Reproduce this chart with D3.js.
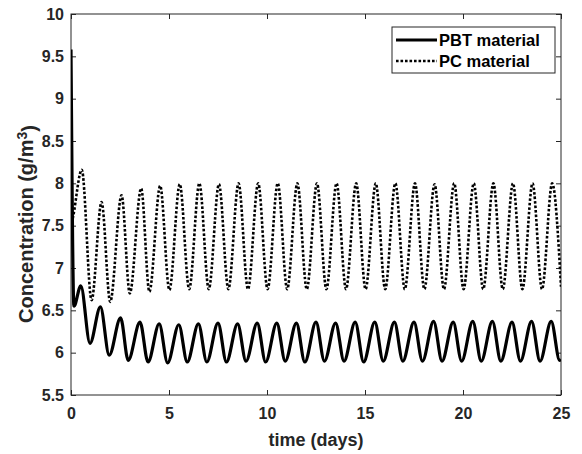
<!DOCTYPE html>
<html>
<head>
<meta charset="utf-8">
<script src="https://cdnjs.cloudflare.com/ajax/libs/d3/7.8.5/d3.min.js"></script>
<style>
    body { margin: 0; background: #fff; }
    svg { display: block; font-family: 'Liberation Sans', Arial, sans-serif; }
    .axis .tick line { stroke: #262626; }
    .axis .tick text { font-size: 16px; font-weight: bold; fill: #262626; }
    .axis .domain { display: none; }
</style>
</head>
<body>
<div id="chart"></div>
<script>
// turning points (days, g/m3)
const pbtTime = [0, 0.15, 0.5, 0.97, 1.5, 1.95, 2.53, 2.92, 3.52, 3.93, 4.5, 4.93,
    5.5, 5.93, 6.5, 6.93, 7.5, 7.93, 8.5, 8.93, 9.5, 9.93, 10.5, 10.93, 11.5, 11.93,
    12.5, 12.93, 13.5, 13.93, 14.5, 14.93, 15.5, 15.93, 16.5, 16.93, 17.5, 17.93,
    18.5, 18.93, 19.5, 19.93, 20.5, 20.93, 21.5, 21.93, 22.5, 22.93, 23.5, 23.93,
    24.5, 24.93, 25];
const pbtConc = [9.58, 6.55, 6.79, 6.11, 6.54, 5.97, 6.41, 5.91, 6.36, 5.89, 6.34, 5.88,
    6.33, 5.89, 6.34, 5.89, 6.35, 5.89, 6.34, 5.9, 6.35, 5.89, 6.35, 5.9, 6.35, 5.89,
    6.36, 5.9, 6.35, 5.9, 6.36, 5.89, 6.36, 5.9, 6.36, 5.9, 6.36, 5.9,
    6.37, 5.9, 6.36, 5.9, 6.37, 5.9, 6.37, 5.9, 6.36, 5.9, 6.37, 5.9,
    6.37, 5.91, 5.92];

const pcTime = [0, 0.12, 0.55, 1.05, 1.56, 2.0, 2.58, 3.0, 3.58, 4.0, 4.55, 5.02,
    5.55, 6.03, 6.55, 7.03, 7.55, 8.03, 8.55, 9.03, 9.55, 10.03, 10.55, 11.03,
    11.55, 12.03, 12.55, 13.03, 13.55, 14.03, 14.55, 15.03, 15.55, 16.03, 16.55, 17.03,
    17.55, 18.03, 18.55, 19.03, 19.55, 20.03, 20.55, 21.03, 21.55, 22.03, 22.55, 23.03,
    23.55, 24.03, 24.55, 25];
const pcConc = [7.48, 7.62, 8.16, 6.62, 7.78, 6.6, 7.86, 6.7, 7.94, 6.72, 7.97, 6.74,
    7.99, 6.75, 8.0, 6.75, 7.99, 6.75, 8.0, 6.75, 8.0, 6.75, 8.0, 6.75,
    8.0, 6.75, 8.0, 6.75, 8.0, 6.75, 8.0, 6.75, 8.0, 6.75, 8.0, 6.75,
    8.0, 6.75, 7.99, 6.75, 8.0, 6.75, 8.0, 6.75, 8.0, 6.75, 8.0, 6.75,
    8.0, 6.75, 8.0, 6.78];

const seriesNames = ['PBT material', 'PC material'];
const xTicks = [0, 5, 10, 15, 20, 25];
const yTicks = [5.5, 6, 6.5, 7, 7.5, 8, 8.5, 9, 9.5, 10];

function getMargins() {
    return { top: 14, bottom: 59, left: 71, right: 21 };
}

function getDimensions() {
    const margins = getMargins();
    return {
        margins,
        width: 582 - margins.left - margins.right,
        height: 454 - margins.top - margins.bottom
    };
}

function layout(dim) {
    const svg = d3.select('#chart')
        .append('svg')
        .attr('width', 582)
        .attr('height', 454);

    const chart = svg.append('g')
        .attr('transform', `translate(${dim.margins.left},${dim.margins.top})`);

    return { svg, chart };
}

function addAxes(c, dim) {
    const x = d3.scaleLinear().domain([0, 25]).range([0, dim.width]);
    const y = d3.scaleLinear().domain([5.5, 10]).range([dim.height, 0]);

    //ticks on all four sides, pointing inward
    c.chart.append('g')
        .classed('axis axis--x', true)
        .attr('transform', `translate(0,${dim.height})`)
        .call(d3.axisBottom(x).tickValues(xTicks).tickSizeInner(-5).tickSizeOuter(0).tickPadding(13));
    c.chart.append('g')
        .classed('axis', true)
        .call(d3.axisTop(x).tickValues(xTicks).tickSizeInner(-5).tickSizeOuter(0).tickFormat(''));
    c.chart.append('g')
        .classed('axis axis--y', true)
        .call(d3.axisLeft(y).tickValues(yTicks).tickSizeInner(-5).tickSizeOuter(0).tickPadding(7).tickFormat(d => d));
    c.chart.append('g')
        .classed('axis', true)
        .attr('transform', `translate(${dim.width},0)`)
        .call(d3.axisRight(y).tickValues(yTicks).tickSizeInner(-5).tickSizeOuter(0).tickFormat(''));

    //box
    c.chart.append('rect')
        .attr('width', dim.width)
        .attr('height', dim.height)
        .attr('fill', 'none')
        .attr('stroke', '#262626')
        .attr('stroke-width', 1);

    //labels
    c.svg.append('text')
        .attr('x', dim.margins.left + dim.width / 2)
        .attr('y', 446)
        .attr('text-anchor', 'middle')
        .style('font-size', '18px')
        .style('font-weight', 'bold')
        .style('fill', '#262626')
        .text('time (days)');

    const ylab = c.svg.append('text')
        .attr('transform', `translate(33,224) rotate(-90)`)
        .attr('text-anchor', 'middle')
        .style('font-size', '20px')
        .style('font-weight', 'bold')
        .style('fill', '#262626');
    ylab.append('tspan').text('Concentration (g/m');
    ylab.append('tspan').attr('dy', '-0.45em').style('font-size', '14px').text('3');
    ylab.append('tspan').attr('dy', '0.45em').text(')');

    return { x, y };
}

function drawLines(c, s) {
    const clip = c.chart.append('clipPath').attr('id', 'plot-clip');
    clip.append('rect')
        .attr('width', s.x.range()[1])
        .attr('height', s.y.range()[0]);

    const line = d3.line()
        .x(d => s.x(d[0]))
        .y(d => s.y(d[1]))
        .curve(d3.curveMonotoneX);

    c.chart.append('path')
        .datum(pcTime.map((t, i) => [t, pcConc[i]]))
        .attr('d', line)
        .attr('fill', 'none')
        .attr('stroke', '#000')
        .attr('stroke-width', 2.6)
        .attr('stroke-dasharray', '2.6,1.9')
        .attr('clip-path', 'url(#plot-clip)');

    c.chart.append('path')
        .datum(pbtTime.map((t, i) => [t, pbtConc[i]]))
        .attr('d', line)
        .attr('fill', 'none')
        .attr('stroke', '#000')
        .attr('stroke-width', 3.2)
        .attr('stroke-linejoin', 'round')
        .attr('clip-path', 'url(#plot-clip)');
}

function addLegend(c, dim) {
    const w = 163, h = 46;
    const g = c.chart.append('g')
        .attr('transform', `translate(${dim.width - w - 6},13)`);

    g.append('rect')
        .attr('width', w)
        .attr('height', h)
        .attr('fill', '#fff')
        .attr('stroke', '#262626')
        .attr('stroke-width', 1);

    const styles = [
        { width: 3.2, dash: null },
        { width: 2.6, dash: '2.6,1.9' }
    ];

    seriesNames.forEach((name, i) => {
        const yy = 13 + i * 21;
        g.append('line')
            .attr('x1', 4).attr('x2', 45)
            .attr('y1', yy).attr('y2', yy)
            .attr('stroke', '#000')
            .attr('stroke-width', styles[i].width)
            .attr('stroke-dasharray', styles[i].dash);
        g.append('text')
            .attr('x', 47)
            .attr('y', yy)
            .attr('dy', '0.36em')
            .style('font-size', '16.5px')
            .style('font-weight', 'bold')
            .style('fill', '#000')
            .text(name);
    });
}

const dim = getDimensions();
const containers = layout(dim);
const scales = addAxes(containers, dim);
drawLines(containers, scales);
addLegend(containers, dim);
</script>
</body>
</html>
